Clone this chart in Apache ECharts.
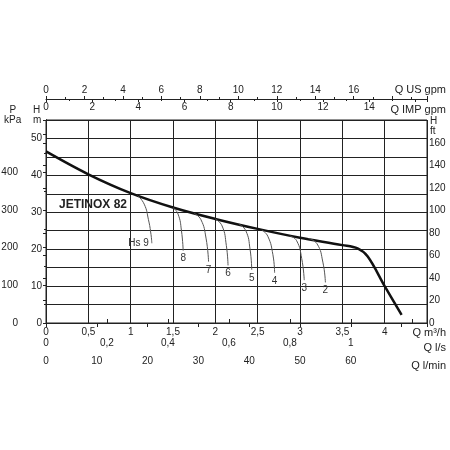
<!DOCTYPE html>
<html>
<head>
<meta charset="utf-8">
<script src="https://cdn.jsdelivr.net/npm/echarts@6/dist/echarts.min.js"></script>
<style>body{margin:0;background:#fff}#main{width:450px;height:450px}</style>
</head>
<body>
<div id="main"></div>
<script>
// Q m3/h, H m
const mainCurve = [[0,46.5],[0.5,40.3],[1,35.2],[1.5,31.3],[2,28.2],[2.5,25.5],[3,23.1],[3.5,21.1],[3.68,20.2],[3.8,18],[4,10],[4.2,2.2]];
const branchNames = ["Hs 9","8","7","6","5","4","3","2"];
const branches = [
  [[1.08,34.6],[1.16,32.2],[1.21,28],[1.24,24],[1.25,21.6]],
  [[1.5,31.3],[1.56,29.5],[1.6,25],[1.62,19.6]],
  [[1.75,29.7],[1.83,28],[1.89,23],[1.92,16.6]],
  [[2.0,28.2],[2.08,26.3],[2.13,21],[2.15,15.6]],
  [[2.28,26.8],[2.36,25],[2.41,20],[2.43,14.4]],
  [[2.55,25.2],[2.62,23.5],[2.68,18.5],[2.7,13.6]],
  [[2.88,23.6],[2.96,22.3],[3.02,17.5],[3.05,11.6]],
  [[3.1,22.9],[3.2,21.5],[3.27,16.5],[3.3,11]]
];
const labelPos = ["left","bottom","bottom","bottom","bottom","bottom","bottom","bottom"];
const axisTitles = [
  ["Q US gpm", 446, 84], ["Q IMP gpm", 446, 104], ["Q m³/h", 446, 327],
  ["Q l/s", 446, 342], ["Q l/min", 446, 360]
];

const comma = v => String(+v.toFixed(2)).replace(".", ",");
const upTo = lim => v => v > lim + 1e-9 ? "" : comma(v);
const ax = {color:"#222", fontSize:10, fontFamily:"Liberation Sans"};
const line = {lineStyle:{color:"#222"}};
const tick = {color:"#222"};

const series = [{
  type:"line", data:mainCurve, smooth:0.35, symbol:"none",
  lineStyle:{color:"#111", width:2.5}, xAxisIndex:0, yAxisIndex:0
}];
branches.forEach((b, i) => {
  const d = b.map((p, j) => j === b.length - 1
    ? {value:p, label:{show:true, position:labelPos[i], formatter:branchNames[i], color:"#333", fontSize:10, distance:3}}
    : p);
  series.push({type:"line", data:d, smooth:true, symbol:"circle", symbolSize:0.1,
    lineStyle:{color:"#555", width:1}, xAxisIndex:0, yAxisIndex:0});
});

const graphic = axisTitles.map(t => ({type:"text", right:450 - t[1], top:t[2],
  style:{text:t[0], fill:"#222", font:"11px Liberation Sans", textAlign:"right"}}));
graphic.push(
  {type:"text", left:4, top:105, style:{text:"  P\nkPa", fill:"#222", font:"10px Liberation Sans"}},
  {type:"text", left:33, top:105, style:{text:"H\nm", fill:"#222", font:"10px Liberation Sans"}},
  {type:"text", left:430, top:116, style:{text:"H\nft", fill:"#222", font:"10px Liberation Sans"}}
);

const chart = echarts.init(document.getElementById("main"));
chart.setOption({
  animation:false,
  title:{text:"JETINOX 82", left:54, top:194, textStyle:{fontSize:12, fontWeight:"bold", color:"#222", fontFamily:"Liberation Sans"}},
  graphic:graphic,
  grid:{left:46, right:23, top:120, bottom:127, outerBoundsMode:"none", containLabel:false, show:true, borderColor:"#222", borderWidth:1},
  xAxis:[
    {type:"value", min:0, max:4.5, interval:0.5, position:"bottom",
      axisLabel:{...ax, margin:4, formatter:upTo(4)}, axisLine:line, axisTick:{show:false},
      splitLine:{lineStyle:{color:"#222", width:1}}},
    {type:"value", min:0, max:1.25, interval:0.2, position:"bottom", offset:29,
      axisLabel:{...ax, inside:true, margin:4, formatter:upTo(1)}, axisLine:line, axisTick:{inside:true, length:4, lineStyle:tick}, splitLine:{show:false}},
    {type:"value", min:0, max:75, interval:10, position:"bottom", offset:29,
      axisLabel:{...ax, margin:4, formatter:upTo(60)}, axisLine:line, axisTick:{length:4, lineStyle:tick}, splitLine:{show:false}},
    {type:"value", min:0, max:19.81, interval:2, position:"top", offset:21,
      axisLabel:{...ax, margin:4, formatter:upTo(16)}, axisLine:line, axisTick:{length:3, lineStyle:tick},
      minorTick:{show:true, splitNumber:2, length:2, lineStyle:tick}, splitLine:{show:false}},
    {type:"value", min:0, max:16.5, interval:2, position:"top", offset:21,
      axisLabel:{...ax, inside:true, margin:3, formatter:upTo(14)}, axisLine:{show:false}, axisTick:{inside:true, length:3, lineStyle:tick},
      minorTick:{show:true, splitNumber:2, length:2, lineStyle:tick}, splitLine:{show:false}}
  ],
  yAxis:[
    {type:"value", min:0, max:55, interval:5, position:"left",
      axisLabel:{...ax, margin:4, formatter:v => v % 10 === 0 && v <= 50 ? v : ""}, axisLine:line, axisTick:{show:false},
      splitLine:{lineStyle:{color:"#222", width:1}}},
    {type:"value", min:0, max:539, interval:100, position:"left", offset:22,
      axisLabel:{...ax, margin:6, formatter:upTo(400)}, axisLine:line, axisTick:{length:3, lineStyle:tick},
      minorTick:{show:true, splitNumber:2, length:2, lineStyle:tick}, splitLine:{show:false}},
    {type:"value", min:0, max:180.4, interval:20, position:"right",
      axisLabel:{...ax, margin:2, formatter:upTo(160)}, axisLine:line, axisTick:{length:3, inside:true, lineStyle:tick}, splitLine:{show:false}}
  ],
  series:series
});
</script>
</body>
</html>
